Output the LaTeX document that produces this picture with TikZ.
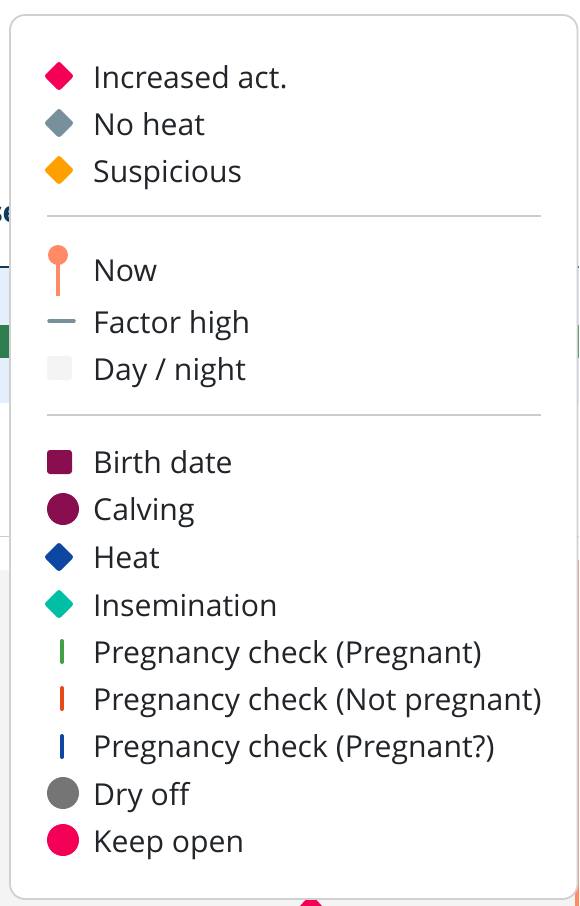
\documentclass[tikz,border=0pt]{standalone}
\usepackage{fontspec}
\setmainfont{Open Sans}
\definecolor{txt}{HTML}{212529}
\definecolor{rule}{HTML}{CCCCCC}
\definecolor{cardline}{HTML}{D0D0D0}
\definecolor{incact}{HTML}{F50057}
\definecolor{noheat}{HTML}{78909C}
\definecolor{suspic}{HTML}{FFA000}
\definecolor{nowpin}{HTML}{FF8A65}
\definecolor{daynight}{HTML}{F4F4F4}
\definecolor{birth}{HTML}{880E4F}
\definecolor{heat}{HTML}{0D47A1}
\definecolor{insem}{HTML}{00BFA5}
\definecolor{pregyes}{HTML}{43A047}
\definecolor{pregno}{HTML}{E64A19}
\definecolor{dryoff}{HTML}{757575}
\definecolor{chartblue}{HTML}{E3EFFB}
\definecolor{chartgreen}{HTML}{2E7D4F}
\definecolor{chartnavy}{HTML}{0D3B5E}
\definecolor{chartgray}{HTML}{F4F4F4}
\begin{document}
\begin{tikzpicture}[x=1pt,y=-1pt,
    lbl/.style={anchor=base west,inner sep=0pt,text=txt,font=\fontsize{30.2}{35}\selectfont},
    sepline/.style={rule,line width=1.5pt},
    checkline/.style={line width=4pt,line cap=round}]
                \useasboundingbox (0,0) rectangle (579,906);
                \fill[white] (0,0) rectangle (579,906);
                \fill[chartblue] (0,268) rectangle (579,403);
                \fill[chartgreen] (0,325) rectangle (579,358);
                \draw[chartnavy, line width=1.5pt] (0,267) -- (579,267);
                \node[anchor=base east, inner sep=0pt, text=chartnavy, font=\bfseries\fontsize{29}{34}\selectfont] (hdr) at (20,222) {se};
                \draw[rule] (0,536) -- (579,536);
                \fill[chartgray] (0,570) rectangle (579,906);
                \fill[nowpin] (575,560) rectangle (579,906);
                \fill[incact] (300,906) -- (311,894) -- (322,906) -- cycle;
                \filldraw[fill=white, draw=cardline, line width=1.8pt, rounded corners=15pt] (10,15) rectangle (577.5,899);
                \fill[incact, rounded corners=2.5pt] (44,76) -- (59,61) -- (74,76) -- (59,91) -- cycle;
                \fill[noheat, rounded corners=2.5pt] (44,123) -- (59,108) -- (74,123) -- (59,138) -- cycle;
                \fill[suspic, rounded corners=2.5pt] (44,170) -- (59,155) -- (74,170) -- (59,185) -- cycle;
                \node[lbl] (incact) at (93,88) {Increased act.};
                \node[lbl] (noheat) at (93,135) {No heat};
                \node[lbl] (suspic) at (93,182) {Suspicious};
                \draw[sepline] (47,216) -- (541,216);
                \draw[nowpin, line width=4pt] (58,255) -- (58,296);
                \fill[nowpin] (58,255) circle (10);
                \draw[noheat, line width=3.5pt, line cap=round] (49,321) -- (74,321);
                \fill[daynight, rounded corners=3pt] (47,356) rectangle (72,380);
                \node[lbl] (now) at (93,281) {Now};
                \node[lbl] (factor) at (93,333) {Factor high};
                \node[lbl] (daynight) at (93,380) {Day / night};
                \draw[sepline] (47,415) -- (541,415);
                \fill[birth, rounded corners=3pt] (47,450) rectangle (72,474);
                \fill[birth] (63,509) circle (16);
                \fill[heat, rounded corners=2.5pt] (44,557) -- (59,542) -- (74,557) -- (59,572) -- cycle;
                \fill[insem, rounded corners=2.5pt] (44,604) -- (59,589) -- (74,604) -- (59,619) -- cycle;
                \draw[checkline, pregyes] (62,641) -- (62,662);
                \draw[checkline, pregno] (62,688) -- (62,709);
                \draw[checkline, heat] (62,736) -- (62,757);
                \fill[dryoff] (63,793) circle (16);
                \fill[incact] (63,840) circle (16);
                \node[lbl] (birth) at (93,473) {Birth date};
                \node[lbl] (calving) at (93,520) {Calving};
                \node[lbl] (heat) at (93,568) {Heat};
                \node[lbl] (insem) at (93,616) {Insemination};
                \node[lbl] (pregyes) at (93,663) {Pregnancy check (Pregnant)};
                \node[lbl] (pregno) at (93,710) {Pregnancy check (Not pregnant)};
                \node[lbl] (pregq) at (93,757) {Pregnancy check (Pregnant?)};
                \node[lbl] (dryoff) at (93,805) {Dry off};
                \node[lbl] (keepopen) at (93,852) {Keep open};
            \end{tikzpicture}
\end{document}
